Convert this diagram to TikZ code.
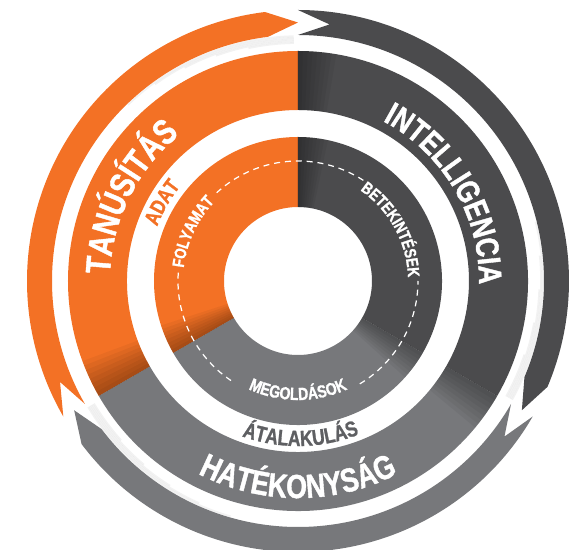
\documentclass[tikz,border=0pt]{standalone}
\usepackage{fontspec}
\newfontfamily\ringfont[FakeStretch=0.8, FakeBold=1.2]{Liberation Sans Bold}
\usetikzlibrary{decorations.text}

\definecolor{tanorange}{HTML}{F37125}
\definecolor{intdark}{HTML}{4B4B4D}
\definecolor{hatgray}{HTML}{77787B}
\definecolor{atagray}{HTML}{5E5F62}

\tikzset{
  ringlabel/.style n args={3}{decorate, decoration={text along path, text align=center,
      text={|\ringfont\fontsize{#1}{#1}\selectfont\color{#2}|#3}}},
  dashline/.style={white, line width=0.7pt, dash pattern=on 3.4pt off 2.8pt},
  shadowfill/.style={black, opacity=0.045},
  shadowline/.style={black, opacity=0.05, line width=1pt},
}

\begin{document}
\begin{tikzpicture}[x=0.02cm, y=0.02cm]
\useasboundingbox (-298,-269) rectangle (277,281);

% inner and middle rings
\foreach \col/\a/\b in {tanorange/90/210, hatgray/210/330, intdark/-30/90} {
  \fill[\col] (\a:144) arc[start angle=\a, end angle=\b, radius=144] -- (\b:74)
    arc[start angle=\b, end angle=\a, radius=74] -- cycle;
  \fill[\col] (\a:230) arc[start angle=\a, end angle=\b, radius=230] -- (\b:171)
    arc[start angle=\b, end angle=\a, radius=171] -- cycle;
}

% darker edge where one sector meets the next
\foreach \t in {90, 210, 330}
  \foreach \i in {1,...,8} {
    \fill[shadowfill] (\t:144) arc[start angle=\t, end angle={\t-1.5*\i}, radius=144]
      -- ({\t-1.5*\i}:74) arc[start angle={\t-1.5*\i}, end angle=\t, radius=74] -- cycle;
    \fill[shadowfill] (\t:230) arc[start angle=\t, end angle={\t-1.2*\i}, radius=230]
      -- ({\t-1.2*\i}:171) arc[start angle={\t-1.2*\i}, end angle=\t, radius=171] -- cycle;
  }

% shadow under the outer arrows
\foreach \a/\b in {210/90, 90/-30, 330/210}
  \foreach \k in {1,...,5}
    \draw[shadowline] ({\b+1}:{246.5-1.7*\k}) arc[start angle={\b+1}, end angle={\b+7+45-8*\k}, radius={246.5-1.7*\k}];

% outer arrows, running clockwise
\foreach \col/\a/\b in {tanorange/210/90, intdark/90/-30, hatgray/330/210} {
  \fill[\col] (\a:271) arc[start angle=\a, end angle={\b+7}, radius=271] -- ({\b}:258.5)
    -- ({\b+7}:246) arc[start angle={\b+7}, end angle=\a, radius=246] -- ({\a-7}:258.5) -- cycle;
}

% dashed circle
\foreach \a/\b in {57/134, 176/238, 301/360}
  \draw[dashline] (\a:120) arc[start angle=\a, end angle=\b, radius=120];

% labels
\path[ringlabel={20}{white}{TANÚSÍTÁS}] (213.5:188) arc[start angle=213.5, end angle=93.5, radius=188];
\path[ringlabel={18.5}{white}{INTELLIGENCIA}] (90.5:181) arc[start angle=90.5, end angle=-29.5, radius=181];
\path[ringlabel={19}{white}{HATÉKONYSÁG}] (210:217) arc[start angle=210, end angle=330, radius=217];
\path[ringlabel={12}{tanorange}{ADAT}] (210:151) arc[start angle=210, end angle=90, radius=151];
\path[ringlabel={12.5}{atagray}{ÁTALAKULÁS}] (211:165) arc[start angle=211, end angle=331, radius=165];
\path[ringlabel={9.5}{white}{FOLYAMAT}] (215:115) arc[start angle=215, end angle=95, radius=115];
\path[ringlabel={9.5}{white}{BETEKINTÉSEK}] (88.75:110) arc[start angle=88.75, end angle=-31.25, radius=110];
\path[ringlabel={10}{white}{MEGOLDÁSOK}] (210:119) arc[start angle=210, end angle=330, radius=119];
\end{tikzpicture}
\end{document}
